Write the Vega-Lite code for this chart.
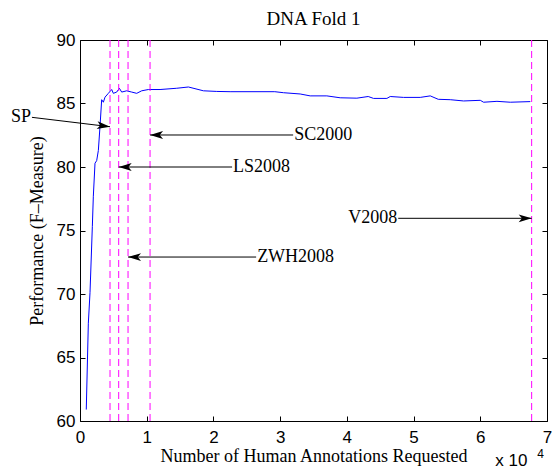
{
  "$schema": "https://vega.github.io/schema/vega-lite/v6.json",
  "autosize": {"type": "none"},
  "width": 467,
  "height": 381,
  "padding": {"left": 80, "top": 40, "right": 6, "bottom": 50},
  "background": "white",
  "config": {
    "view": {"stroke": null},
    "axis": {"grid": false, "domainColor": "black", "tickColor": "black", "labelColor": "black", "titleColor": "black", "domainWidth": 1, "tickWidth": 1, "labelFont": "Liberation Sans", "labelFontSize": 17, "titleFont": "Liberation Serif", "titleFontSize": 18, "titleFontWeight": "normal", "tickSize": -5}
  },
  "datasets": {
    "curve": [
      {"n": 940, "f": 60.9}, {"n": 1250, "f": 67.7}, {"n": 1500, "f": 70.1}, {"n": 1850, "f": 75.3},
      {"n": 2000, "f": 77.7}, {"n": 2250, "f": 80.3}, {"n": 2500, "f": 80.5}, {"n": 2750, "f": 81.3},
      {"n": 3000, "f": 83.2}, {"n": 3250, "f": 85.3}, {"n": 3500, "f": 85.1}, {"n": 3750, "f": 85.5},
      {"n": 4250, "f": 85.8}, {"n": 4750, "f": 86.1}, {"n": 5000, "f": 85.8}, {"n": 5500, "f": 85.9},
      {"n": 5900, "f": 86.2}, {"n": 6250, "f": 85.9}, {"n": 7000, "f": 86.0}, {"n": 7750, "f": 85.9},
      {"n": 8500, "f": 85.8}, {"n": 9250, "f": 86.0}, {"n": 10250, "f": 86.1}, {"n": 12000, "f": 86.1},
      {"n": 14500, "f": 86.2}, {"n": 16250, "f": 86.3}, {"n": 18500, "f": 86.0}, {"n": 20500, "f": 85.95},
      {"n": 22500, "f": 85.93}, {"n": 29200, "f": 85.93}, {"n": 30500, "f": 85.85}, {"n": 33000, "f": 85.75},
      {"n": 34500, "f": 85.6}, {"n": 37000, "f": 85.6}, {"n": 39000, "f": 85.45}, {"n": 41500, "f": 85.42},
      {"n": 43200, "f": 85.55}, {"n": 44000, "f": 85.4}, {"n": 46000, "f": 85.4}, {"n": 46500, "f": 85.55},
      {"n": 48500, "f": 85.48}, {"n": 51000, "f": 85.48}, {"n": 52500, "f": 85.6}, {"n": 53700, "f": 85.33},
      {"n": 55500, "f": 85.3}, {"n": 57500, "f": 85.2}, {"n": 60000, "f": 85.25}, {"n": 60500, "f": 85.1},
      {"n": 62500, "f": 85.17}, {"n": 64500, "f": 85.1}, {"n": 67500, "f": 85.15}
    ],
    "methods": [
      {"label": "SP", "side": "right", "n": 4500, "tx": -7200, "ty": 83.91, "ay": 83.17, "angle": 6.9},
      {"label": "LS2008", "side": "left", "n": 5800, "tx": 22800, "ty": 80.0, "ay": 80.0, "angle": 180},
      {"label": "ZWH2008", "side": "left", "n": 7200, "tx": 26400, "ty": 72.91, "ay": 72.91, "angle": 180},
      {"label": "SC2000", "side": "left", "n": 10500, "tx": 31950, "ty": 82.52, "ay": 82.52, "angle": 180},
      {"label": "V2008", "side": "right", "n": 67700, "tx": 47700, "ty": 75.96, "ay": 75.96, "angle": 0}
    ],
    "notes": [
      {"t": "DNA Fold 1", "n": 35000, "f": 91.2, "s": 19, "a": "center"},
      {"t": "x 10", "n": 62250, "f": 56.45, "s": 17, "a": "left"},
      {"t": "4", "n": 68550, "f": 57.05, "s": 12, "a": "left"}
    ]
  },
  "resolve": {"axis": {"x": "independent", "y": "independent"}},
  "layer": [
    {
      "data": {"name": "curve"},
      "mark": {"type": "line", "color": "#0000ff", "strokeWidth": 1},
      "encoding": {
        "x": {"field": "n", "type": "quantitative", "scale": {"domain": [0, 70000], "nice": false, "zero": false},
          "axis": {"orient": "bottom", "values": [0, 10000, 20000, 30000, 40000, 50000, 60000, 70000], "labelExpr": "datum.value / 10000", "labelPadding": 13, "labelFlush": false, "labelOverlap": false, "title": "Number of Human Annotations Requested", "titlePadding": 2}},
        "y": {"field": "f", "type": "quantitative", "scale": {"domain": [60, 90], "nice": false, "zero": false},
          "axis": {"orient": "left", "values": [60, 65, 70, 75, 80, 85, 90], "labelPadding": 10, "labelFlush": false, "labelOverlap": false, "title": "Performance (F\u2013Measure)", "titlePadding": 10}}
      }
    },
    {
      "data": {"name": "methods"},
      "mark": {"type": "rule", "color": "#ff00ff", "strokeWidth": 1, "strokeDash": [7, 4]},
      "encoding": {
        "x": {"field": "n", "type": "quantitative", "axis": null}
      }
    },
    {
      "data": {"name": "methods"},
      "mark": {"type": "rule", "color": "black", "strokeWidth": 1},
      "encoding": {
        "x": {"field": "tx", "type": "quantitative", "axis": {"orient": "top", "values": [0, 10000, 20000, 30000, 40000, 50000, 60000, 70000], "labels": false, "title": null}},
        "y": {"field": "ty", "type": "quantitative", "axis": {"orient": "right", "values": [60, 65, 70, 75, 80, 85, 90], "labels": false, "title": null}},
        "x2": {"field": "n"},
        "y2": {"field": "ay"}
      }
    },
    {
      "data": {"name": "methods"},
      "mark": {"type": "point", "shape": "M0,0 L-2,-0.6 L-1.5,0 L-2,0.6 Z", "filled": true, "color": "black", "opacity": 1, "size": 169, "strokeWidth": 0},
      "encoding": {
        "x": {"field": "n", "type": "quantitative", "axis": null},
        "y": {"field": "ay", "type": "quantitative", "axis": null},
        "angle": {"field": "angle", "type": "quantitative", "scale": null}
      }
    },
    {
      "data": {"name": "methods"},
      "transform": [{"filter": "datum.side === 'left'"}],
      "mark": {"type": "text", "align": "left", "baseline": "middle", "font": "Liberation Serif", "fontSize": 18, "color": "black", "dx": 1},
      "encoding": {
        "x": {"field": "tx", "type": "quantitative", "axis": null},
        "y": {"field": "ty", "type": "quantitative", "axis": null},
        "text": {"field": "label"}
      }
    },
    {
      "data": {"name": "methods"},
      "transform": [{"filter": "datum.side === 'right'"}],
      "mark": {"type": "text", "align": "right", "baseline": "middle", "font": "Liberation Serif", "fontSize": 18, "color": "black", "dx": -1},
      "encoding": {
        "x": {"field": "tx", "type": "quantitative", "axis": null},
        "y": {"field": "ty", "type": "quantitative", "axis": null},
        "text": {"field": "label"}
      }
    },
    {
      "data": {"name": "notes"},
      "transform": [{"filter": "datum.a === 'center'"}],
      "mark": {"type": "text", "align": "center", "baseline": "alphabetic", "font": "Liberation Serif", "color": "black"},
      "encoding": {
        "x": {"field": "n", "type": "quantitative", "axis": null},
        "y": {"field": "f", "type": "quantitative", "axis": null},
        "text": {"field": "t"},
        "size": {"field": "s", "type": "quantitative", "scale": null}
      }
    },
    {
      "data": {"name": "notes"},
      "transform": [{"filter": "datum.a === 'left'"}],
      "mark": {"type": "text", "align": "left", "baseline": "alphabetic", "font": "Liberation Sans", "color": "black"},
      "encoding": {
        "x": {"field": "n", "type": "quantitative", "axis": null},
        "y": {"field": "f", "type": "quantitative", "axis": null},
        "text": {"field": "t"},
        "size": {"field": "s", "type": "quantitative", "scale": null}
      }
    }
  ]
}
